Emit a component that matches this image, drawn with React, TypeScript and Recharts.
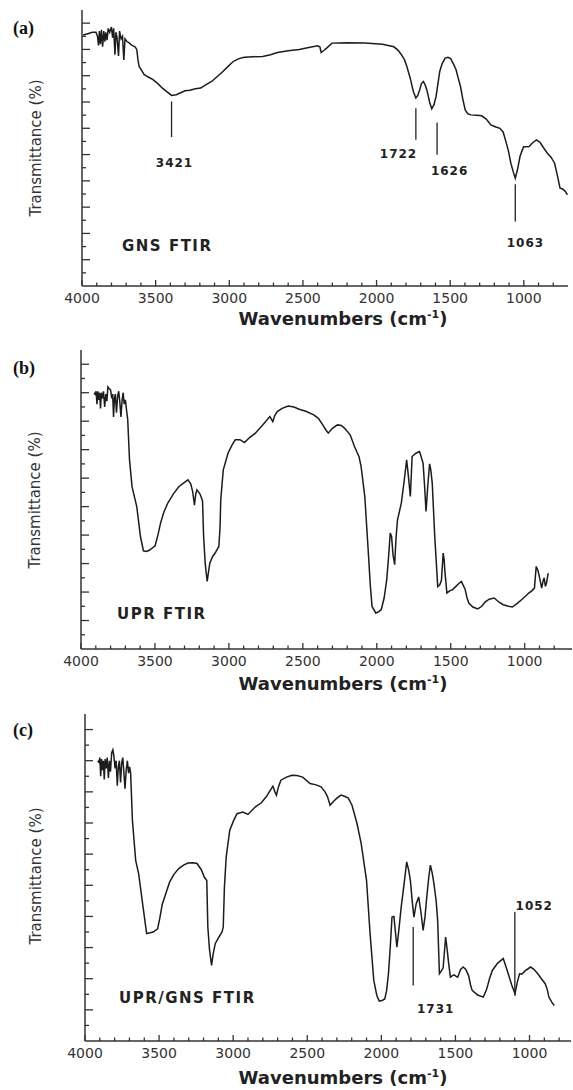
import React from 'react';
import { LineChart, Line, XAxis, YAxis, ReferenceLine, ReferenceDot } from 'recharts';

const FONT = "'DejaVu Sans', Verdana, sans-serif";
const SERIF = "'Times New Roman', 'Liberation Serif', serif";

// (a) GNS FTIR: wavenumber (cm-1) and transmittance (arbitrary units, axis 0..21)
const gnsWn = [3992, 3960, 3930, 3905, 3895, 3888, 3882, 3875, 3868, 3860, 3852, 3845, 3838, 3830, 3822, 3812, 3800, 3792, 3785, 3776, 3770, 3762, 3752, 3745, 3735, 3725, 3716, 3708, 3695, 3680, 3660, 3640, 3628, 3620, 3612, 3595, 3579, 3550, 3518, 3485, 3454, 3420, 3392, 3360, 3330, 3300, 3268, 3230, 3194, 3160, 3120, 3085, 3045, 3005, 2971, 2935, 2897, 2840, 2773, 2720, 2673, 2600, 2525, 2460, 2401, 2385, 2376, 2360, 2339, 2302, 2200, 2079, 1960, 1882, 1855, 1831, 1810, 1794, 1769, 1750, 1733, 1720, 1707, 1695, 1682, 1670, 1658, 1640, 1625, 1610, 1596, 1583, 1571, 1555, 1534, 1515, 1497, 1478, 1460, 1445, 1430, 1414, 1398, 1380, 1360, 1320, 1286, 1255, 1224, 1190, 1162, 1140, 1125, 1105, 1088, 1072, 1058, 1042, 1026, 1012, 1001, 985, 964, 940, 914, 900, 891, 865, 840, 815, 791, 770, 754, 740, 729, 715, 704];
const gnsT = [19.1, 19.2, 19.3, 19.3, 19.0, 18.3, 19.4, 18.4, 19.5, 18.2, 19.4, 18.6, 19.3, 18.7, 19.6, 19.3, 19.7, 18.9, 19.6, 17.6, 19.3, 18.9, 17.5, 19.4, 18.8, 19.0, 17.2, 18.8, 18.6, 18.5, 18.3, 18.2, 18.0, 17.2, 16.7, 16.4, 16.1, 15.9, 15.7, 15.4, 15.05, 14.75, 14.5, 14.55, 14.7, 14.85, 14.9, 15.0, 15.06, 15.3, 15.56, 15.9, 16.3, 16.75, 17.1, 17.3, 17.4, 17.45, 17.47, 17.6, 17.77, 17.9, 18.0, 18.15, 18.28, 18.2, 17.77, 17.9, 18.1, 18.48, 18.5, 18.48, 18.4, 18.2, 17.95, 17.6, 17.2, 16.7, 15.7, 14.8, 14.3, 14.5, 14.93, 15.4, 15.56, 15.3, 14.9, 14.0, 13.48, 13.8, 14.42, 15.4, 16.32, 16.9, 17.34, 17.4, 17.3, 16.9, 16.45, 15.8, 15.18, 14.2, 13.4, 13.1, 13.02, 13.0, 12.95, 12.7, 12.26, 12.1, 12.0, 11.7, 11.12, 10.3, 9.34, 8.7, 8.2, 8.9, 9.85, 10.3, 10.6, 10.6, 10.62, 10.9, 11.12, 11.0, 10.95, 10.5, 10.1, 9.8, 9.34, 8.3, 7.44, 7.4, 7.31, 7.15, 6.93];

// (b) UPR FTIR
const uprWn = [3912, 3905, 3898, 3892, 3886, 3880, 3874, 3868, 3862, 3855, 3848, 3840, 3832, 3825, 3818, 3810, 3800, 3792, 3786, 3780, 3774, 3768, 3760, 3752, 3745, 3738, 3730, 3722, 3715, 3708, 3700, 3690, 3684, 3672, 3655, 3623, 3598, 3578, 3556, 3536, 3499, 3480, 3462, 3440, 3413, 3375, 3339, 3300, 3277, 3258, 3245, 3233, 3224, 3216, 3196, 3185, 3178, 3171, 3160, 3147, 3138, 3129, 3110, 3093, 3068, 3060, 3055, 3038, 3006, 2980, 2957, 2925, 2895, 2860, 2821, 2770, 2723, 2703, 2690, 2673, 2640, 2599, 2560, 2525, 2480, 2426, 2395, 2365, 2345, 2328, 2300, 2266, 2240, 2217, 2180, 2150, 2120, 2106, 2081, 2057, 2044, 2032, 2007, 1990, 1970, 1950, 1933, 1920, 1909, 1900, 1890, 1879, 1870, 1860, 1834, 1815, 1798, 1785, 1773, 1761, 1736, 1711, 1700, 1687, 1677, 1667, 1655, 1643, 1635, 1625, 1608, 1588, 1575, 1563, 1551, 1545, 1539, 1526, 1505, 1489, 1465, 1445, 1428, 1403, 1390, 1378, 1350, 1317, 1290, 1268, 1240, 1206, 1175, 1145, 1110, 1083, 1050, 1021, 995, 972, 950, 934, 922, 910, 903, 885, 875, 868, 860, 853, 841];
const uprT = [18.0, 17.9, 18.1, 17.2, 18.1, 17.5, 18.0, 16.9, 18.0, 17.6, 18.1, 17.0, 17.9, 17.4, 18.4, 18.3, 18.2, 17.6, 17.9, 16.3, 17.6, 17.9, 16.6, 17.8, 18.1, 17.4, 16.3, 17.5, 18.0, 17.2, 17.5, 16.6, 16.1, 13.3, 11.4, 10.0, 7.9, 6.9, 6.85, 6.95, 7.25, 8.0, 8.84, 9.6, 10.25, 10.9, 11.4, 11.7, 11.88, 11.6, 11.06, 10.1, 10.9, 11.18, 10.9, 10.6, 10.36, 7.9, 6.0, 4.74, 5.4, 6.03, 6.5, 6.74, 7.2, 8.5, 10.48, 12.58, 13.75, 14.3, 14.69, 14.7, 14.5, 14.85, 15.16, 15.75, 16.32, 15.97, 16.4, 16.67, 16.9, 17.07, 17.0, 16.84, 16.7, 16.44, 16.2, 15.74, 15.4, 15.16, 15.5, 15.74, 15.7, 15.5, 15.04, 14.2, 13.5, 12.81, 10.71, 6.74, 4.5, 2.99, 2.53, 2.6, 2.76, 3.6, 4.86, 6.5, 8.14, 7.9, 6.6, 5.92, 7.8, 9.07, 10.25, 11.8, 13.28, 12.0, 10.71, 13.52, 13.75, 13.87, 13.5, 13.05, 11.5, 9.66, 11.5, 13.0, 12.6, 11.65, 7.9, 4.39, 4.5, 4.8, 6.74, 6.3, 5.4, 3.93, 4.1, 4.16, 4.4, 4.6, 4.74, 4.2, 3.6, 3.23, 2.95, 2.81, 3.0, 3.3, 3.5, 3.58, 3.3, 3.11, 3.0, 2.95, 3.2, 3.46, 3.7, 3.93, 4.1, 4.28, 5.8, 5.5, 5.2, 4.28, 4.8, 5.0, 4.4, 4.6, 5.33];

// (c) UPR/GNS FTIR
const compWn = [3914, 3906, 3900, 3894, 3888, 3882, 3876, 3870, 3864, 3857, 3850, 3842, 3835, 3828, 3820, 3812, 3805, 3797, 3790, 3782, 3775, 3768, 3760, 3752, 3745, 3738, 3730, 3722, 3714, 3706, 3699, 3692, 3680, 3658, 3638, 3608, 3584, 3560, 3540, 3510, 3495, 3478, 3450, 3429, 3400, 3367, 3335, 3305, 3270, 3244, 3215, 3195, 3178, 3171, 3160, 3146, 3135, 3121, 3096, 3075, 3067, 3059, 3047, 3023, 2995, 2974, 2935, 2900, 2850, 2810, 2777, 2750, 2732, 2718, 2708, 2695, 2678, 2640, 2604, 2570, 2531, 2481, 2440, 2407, 2380, 2363, 2346, 2322, 2300, 2272, 2245, 2223, 2198, 2165, 2136, 2100, 2076, 2051, 2030, 2014, 1995, 1977, 1965, 1952, 1940, 1928, 1915, 1905, 1895, 1880, 1866, 1845, 1829, 1816, 1804, 1792, 1780, 1765, 1748, 1733, 1718, 1705, 1694, 1680, 1669, 1657, 1645, 1630, 1620, 1608, 1595, 1583, 1566, 1555, 1546, 1534, 1520, 1509, 1495, 1485, 1465, 1448, 1430, 1411, 1398, 1387, 1350, 1312, 1290, 1270, 1251, 1215, 1177, 1160, 1140, 1120, 1098, 1082, 1067, 1050, 1030, 993, 970, 943, 920, 894, 880, 869, 850, 833];
const compT = [18.0, 17.9, 18.2, 17.0, 18.1, 17.4, 18.0, 16.8, 18.1, 17.5, 18.2, 16.9, 18.0, 17.3, 18.5, 18.7, 18.3, 17.5, 18.0, 16.4, 17.6, 18.0, 16.6, 17.9, 18.2, 17.3, 16.2, 17.4, 18.0, 17.2, 17.6, 17.2, 14.18, 11.6, 10.75, 8.6, 6.9, 6.95, 7.0, 7.2, 7.9, 8.8, 9.6, 10.2, 10.7, 11.07, 11.3, 11.43, 11.45, 11.4, 11.0, 10.53, 10.3, 7.32, 5.9, 4.86, 5.6, 6.25, 6.68, 7.0, 7.32, 9.9, 11.82, 13.54, 14.2, 14.6, 14.7, 14.55, 15.04, 15.3, 15.68, 16.1, 16.37, 16.0, 15.79, 16.3, 16.75, 16.95, 17.07, 17.05, 16.95, 16.54, 16.45, 16.32, 16.0, 15.68, 15.14, 15.4, 15.6, 15.79, 15.7, 15.6, 15.14, 14.0, 12.68, 10.32, 6.89, 3.89, 2.9, 2.56, 2.6, 2.7, 3.2, 4.32, 6.0, 7.96, 8.0, 7.0, 6.03, 7.3, 8.6, 10.2, 11.5, 11.0, 10.32, 9.0, 7.96, 8.8, 9.25, 8.3, 7.1, 8.0, 9.2, 10.5, 11.29, 10.8, 10.1, 9.0, 7.75, 4.32, 4.5, 4.7, 6.68, 5.8, 5.0, 4.1, 4.2, 4.25, 4.15, 4.1, 4.6, 4.75, 4.6, 4.2, 3.6, 3.25, 2.95, 2.82, 3.3, 4.0, 4.53, 5.0, 5.29, 4.8, 4.2, 3.6, 3.04, 3.8, 4.32, 4.3, 4.5, 4.75, 4.6, 4.3, 4.0, 3.68, 3.3, 2.82, 2.5, 2.28];

const xTicksA = [4000, 3900, 3800, 3700, 3600, 3500, 3400, 3300, 3200, 3100, 3000, 2900, 2800, 2700, 2600, 2500, 2400, 2300, 2200, 2100, 2000, 1900, 1800, 1700, 1600, 1500, 1400, 1300, 1200, 1100, 1000, 900, 800];
const yTicks = [1, 2, 3, 4, 5, 6, 7, 8, 9, 10, 11, 12, 13, 14, 15, 16, 17, 18, 19, 20];

// peak annotations
const gnsPeaks = ['3421', '1722', '1626', '1063'];
const gnsPeakWn = [3392, 1733, 1589, 1058];
const compPeaks = ['1731', '1052'];
const compPeakWn = [1785, 1099];

type Mark = { x: number; y1: number; y2: number; label: string; lx: number; ly: number };

const gnsMarks: Mark[] = [
  { x: gnsPeakWn[0], y1: 14.04, y2: 11.33, label: gnsPeaks[0], lx: 3372, ly: 9.37 },
  { x: gnsPeakWn[1], y1: 13.53, y2: 11.12, label: gnsPeaks[1], lx: 1851, ly: 10.05 },
  { x: gnsPeakWn[2], y1: 12.44, y2: 9.98, label: gnsPeaks[2], lx: 1504, ly: 8.78 },
  { x: gnsPeakWn[3], y1: 7.75, y2: 4.9, label: gnsPeaks[3], lx: 989, ly: 3.3 },
];
const compMarks: Mark[] = [
  { x: compPeakWn[0], y1: 7.32, y2: 3.57, label: compPeaks[0], lx: 1633, ly: 2.07 },
  { x: compPeakWn[1], y1: 8.28, y2: 2.93, label: compPeaks[1], lx: 968, ly: 8.71 },
];

const XTick = (props: any) => {
  const { x, y, payload } = props;
  const major = payload.value % 500 === 0;
  return (
    <g>
      <line x1={x} x2={x} y1={y} y2={y - (major ? 6 : 3.5)} stroke="#333" strokeWidth={1.3} />
      {major && (
        <text x={x} y={y + 17} textAnchor="middle" fontSize={14} fontFamily={FONT} fill="#333">
          {payload.value}
        </text>
      )}
    </g>
  );
};

const YTick = (props: any) => {
  const { x, y, payload } = props;
  const len = payload.value % 2 === 0 ? 8 : 4;
  return <line x1={x} x2={x + len} y1={y} y2={y} stroke="#333" strokeWidth={1.3} />;
};

interface PanelProps {
  top: number;
  height: number;
  margin: { top: number; right: number; bottom: number; left: number };
  domain: [number, number];
  wn: number[];
  t: number[];
  marks: Mark[];
}

function Panel({ top, height, margin, domain, wn, t, marks }: PanelProps) {
  const data = wn.map((w, i) => ({ wn: w, t: t[i] }));
  const ticks = xTicksA.filter((v) => v >= domain[0]);
  return (
    <div style={{ position: 'absolute', left: 0, top }}>
      <LineChart width={573} height={height} data={data} margin={margin}>
        <XAxis
          dataKey="wn"
          type="number"
          domain={domain}
          allowDataOverflow
          reversed
          ticks={ticks}
          interval={0}
          height={1}
          tickSize={0}
          tickMargin={0}
          tickLine={false}
          tick={<XTick />}
          axisLine={{ stroke: '#333', strokeWidth: 1.5 }}
        />
        <YAxis
          type="number"
          domain={[0, 21]}
          allowDataOverflow
          ticks={yTicks}
          interval={0}
          width={1}
          tickSize={0}
          tickMargin={0}
          tickLine={false}
          tick={<YTick />}
          axisLine={{ stroke: '#333', strokeWidth: 1.5 }}
        />
        <Line
          type="linear"
          dataKey="t"
          stroke="#1c1c1c"
          strokeWidth={1.5}
          dot={false}
          isAnimationActive={false}
        />
        {marks.map((m) => (
          <ReferenceLine
            key={'l' + m.label}
            segment={[
              { x: m.x, y: m.y1 },
              { x: m.x, y: m.y2 },
            ]}
            stroke="#222"
            strokeWidth={1.3}
          />
        ))}
        {marks.map((m) => (
          <ReferenceDot
            key={'d' + m.label}
            x={m.lx}
            y={m.ly}
            r={0}
            fill="none"
            stroke="none"
            label={{
              value: m.label,
              position: 'center',
              fill: '#222',
              fontSize: 12,
              fontWeight: 'bold',
              fontFamily: FONT,
              letterSpacing: 1,
            }}
          />
        ))}
      </LineChart>
    </div>
  );
}

const AxisTitle = ({ y }: { y: number }) => (
  <text x={343} y={y} textAnchor="middle" fontSize={18} fontWeight="bold" fontFamily={FONT} fill="#222">
    Wavenumbers (cm
    <tspan fontSize={11} dy={-7}>-1</tspan>
    <tspan dy={7}>)</tspan>
  </text>
);

const YTitle = ({ cx, cy }: { cx: number; cy: number }) => (
  <text
    x={cx}
    y={cy}
    transform={`rotate(-90 ${cx} ${cy})`}
    textAnchor="middle"
    dominantBaseline="central"
    fontSize={15}
    fontFamily={FONT}
    fill="#333"
  >
    Transmittance (%)
  </text>
);

export default function App() {
  return (
    <div style={{ position: 'absolute', left: 0, top: 0, width: 573, height: 1090, background: '#fff' }}>
      <Panel
        top={0}
        height={330}
        margin={{ top: 10, right: 5, bottom: 43, left: 81 }}
        domain={[700, 4000]}
        wn={gnsWn}
        t={gnsT}
        marks={gnsMarks}
      />
      <Panel
        top={330}
        height={370}
        margin={{ top: 20, right: 1, bottom: 50, left: 80 }}
        domain={[680, 4000]}
        wn={uprWn}
        t={uprT}
        marks={[]}
      />
      <Panel
        top={700}
        height={390}
        margin={{ top: 14, right: 2, bottom: 48, left: 84 }}
        domain={[720, 4000]}
        wn={compWn}
        t={compT}
        marks={compMarks}
      />
      <svg
        width={573}
        height={1090}
        style={{ position: 'absolute', left: 0, top: 0, pointerEvents: 'none' }}
      >
        <text x={13} y={33.5} fontSize={18} fontWeight="bold" fontFamily={SERIF} fill="#111">(a)</text>
        <text x={13} y={373.5} fontSize={18} fontWeight="bold" fontFamily={SERIF} fill="#111">(b)</text>
        <text x={13} y={736} fontSize={18} fontWeight="bold" fontFamily={SERIF} fill="#111">(c)</text>
        <YTitle cx={36} cy={148} />
        <YTitle cx={35} cy={500} />
        <YTitle cx={36} cy={876} />
        <text x={122} y={250.5} fontSize={15} fontWeight="bold" fontFamily={FONT} fill="#222" letterSpacing={1.5}>GNS FTIR</text>
        <text x={117} y={618.5} fontSize={15} fontWeight="bold" fontFamily={FONT} fill="#222" letterSpacing={1.5}>UPR FTIR</text>
        <text x={119} y={1003} fontSize={15} fontWeight="bold" fontFamily={FONT} fill="#222" letterSpacing={1.5}>UPR/GNS FTIR</text>
        <AxisTitle y={325} />
        <AxisTitle y={690} />
        <AxisTitle y={1084} />
      </svg>
    </div>
  );
}
